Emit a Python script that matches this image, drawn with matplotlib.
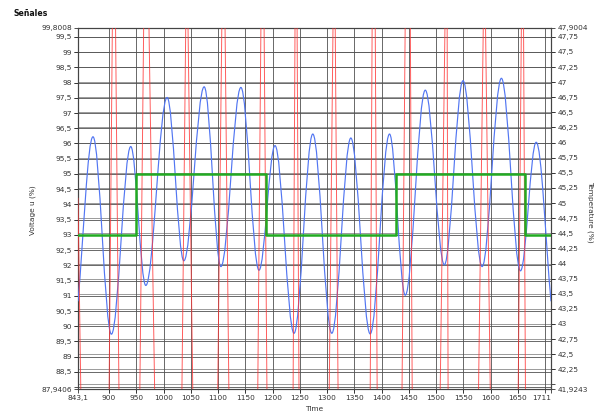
#Señales chart: voltage, temperature and set point
import matplotlib
matplotlib.use("Agg")
import matplotlib.pyplot as plt
from matplotlib.path import Path
from matplotlib.patches import PathPatch
import numpy as np

#Axis ranges
xmin, xmax = 843.1, 1711
ymin, ymax = 87.9406, 99.8008        #Voltage u (%)
tmin, tmax = 41.9243, 47.9004        #Temperature (%)

#Blue signal (voltage), turning points
blue_x = [843.1, 870.6, 904.4, 939.9, 967.5, 1006.6, 1037.3, 1074.6, 1105.3,
          1142.0, 1175.2, 1204.6, 1239.5, 1273.9, 1308.8, 1343.7, 1379.2,
          1414.7, 1443.6, 1480.3, 1515.3, 1549.6, 1584.6, 1620.0, 1655.0,
          1683.8, 1711.0]
blue_y = [90.82, 96.22, 89.74, 95.90, 91.34, 97.51, 92.15, 97.86, 91.96,
          97.84, 91.84, 95.93, 89.77, 96.31, 89.77, 96.18, 89.75, 96.31,
          91.02, 97.75, 92.02, 98.06, 91.96, 98.14, 91.82, 96.04, 90.82]

#Green set point (step)
green_x = [843.1, 950.4, 1188.0, 1427.0, 1663.0, 1711.0]
green_y = [93, 95, 93, 95, 93, 93]

#Red signal: spikes that leave the chart (up, top, top, down)
red_spikes = [(900.0, 906.3, 911.8, 918.4),
              (956.4, 963.8, 973.0, 984.0),
              (1033.6, 1041.0, 1044.7, 1053.9),
              (1099.3, 1107.2, 1112.7, 1120.1),
              (1172.8, 1178.9, 1184.4, 1189.9),
              (1237.7, 1241.4, 1245.0, 1248.7),
              (1303.9, 1311.2, 1314.9, 1320.4),
              (1379.2, 1382.9, 1388.4, 1392.1),
              (1437.5, 1443.6, 1452.8, 1456.4),
              (1507.5, 1516.7, 1520.4, 1522.2),
              (1577.8, 1587.0, 1590.6, 1599.8),
              (1650.7, 1656.8, 1660.5, 1664.2)]
red_low, red_high = 87.6, 100.2
red_start = [(843.1, 94.2), (848.5, red_low)]

#Ticks
x_ticks = [843.1] + list(range(900, 1700, 50)) + [1711]
y_ticks = [ymin] + list(np.arange(88.5, 99.6, 0.5)) + [ymax]
t_ticks = [tmin] + list(np.arange(42.25, 47.8, 0.25)) + [tmax]


def fmt(v):
    s = ("%.4f" % v).rstrip("0").rstrip(".")
    return s.replace(".", ",")


plt.rcParams['font.family'] = ['DejaVu Sans']
fig = plt.figure(figsize=(6.03, 4.15), dpi=100)
ax = fig.add_axes([78/603, 1-389/415, (551-78)/603, (389-27.7)/415])
ax2 = ax.twinx()
ax.set_zorder(2)
ax2.set_zorder(1)
ax.patch.set_visible(False)

gridc = '#505050'
tickc = '#333333'

ax.xaxis.remove_overlapping_locs = False
ax.yaxis.remove_overlapping_locs = False
ax2.yaxis.remove_overlapping_locs = False

#Left axis + vertical grid
ax.set_xlim(xmin, xmax)
ax.set_ylim(ymin, ymax)
ax.set_xticks(x_ticks)
ax.set_xticklabels([fmt(v) for v in x_ticks], fontsize=5.3, color=tickc)
ax.get_xticklabels()[-1].set_horizontalalignment('right')
ax.set_xticks(list(range(900, 1711, 50)), minor=True)
ax.set_yticks(y_ticks)
ax.set_yticklabels([fmt(v) for v in y_ticks], fontsize=5.3, color=tickc)
ax.set_yticks(list(np.arange(88, 99.6, 0.5)), minor=True)
ax.grid(True, which='minor', color=gridc, lw=0.6)
ax.tick_params(which='both', direction='out', length=3, width=0.6,
               color=tickc, pad=1.5)

#Right axis grid (drawn behind)
ax2.set_ylim(tmin, tmax)
ax2.set_yticks(t_ticks)
ax2.set_yticklabels([fmt(v) for v in t_ticks], fontsize=5.3, color=tickc)
ax2.set_yticks(list(np.arange(42, 47.8, 0.25)), minor=True)
ax2.grid(True, which='minor', axis='y', color='#8a8a8a', lw=0.6)
ax2.tick_params(which='both', direction='out', length=3, width=0.6,
                color=tickc, pad=1.5)

for a in (ax, ax2):
    for s in a.spines.values():
        s.set_color('#444444')
        s.set_linewidth(0.8)

#Blue curve as smooth path through the turning points
k = 0.36
verts = [(blue_x[0], blue_y[0])]
codes = [Path.MOVETO]
n = len(blue_x)
for i in range(n - 1):
    x0, y0, x1, y1 = blue_x[i], blue_y[i], blue_x[i+1], blue_y[i+1]
    dx = x1 - x0
    if i == 0:
        c1 = (x0 + k*dx, y0 + k*(y1 - y0))
    else:
        c1 = (x0 + k*dx, y0)
    if i == n - 2:
        c2 = (x1 - k*dx, y1 - k*(y1 - y0))
    else:
        c2 = (x1 - k*dx, y1)
    verts += [c1, c2, (x1, y1)]
    codes += [Path.CURVE4]*3
ax.add_patch(PathPatch(Path(verts, codes), fill=False, edgecolor='#5276f2',
                       lw=0.85, zorder=3))

#Red spikes
red_x = [p[0] for p in red_start]
red_y = [p[1] for p in red_start]
for sp in red_spikes:
    red_x += list(sp)
    red_y += [red_low, red_high, red_high, red_low]
red_x.append(xmax)
red_y.append(red_low)
ax.plot(red_x, red_y, color='#ff3535', lw=0.7, alpha=0.8, zorder=4)

#Green step
ax.plot(green_x, green_y, color='#22aa22', lw=1.8, drawstyle='steps-post',
        zorder=5)

#Texts
fig.text(14/603, 1-14/415, 'Señales', fontsize=5.6, fontweight='bold',
         ha='left', va='center', color='#111111')
fig.text(33/603, 1-210/415, 'Voltage u (%)', rotation=90, fontsize=5.3,
         ha='center', va='center', color=tickc)
fig.text(590/603, 1-212/415, 'Temperature (%)', rotation=270, fontsize=5.3,
         ha='center', va='center', color=tickc)
fig.text(314/603, 1-409/415, 'Time', fontsize=5.3, ha='center', va='center',
         color=tickc)

fig.savefig('out.png', dpi=100)
